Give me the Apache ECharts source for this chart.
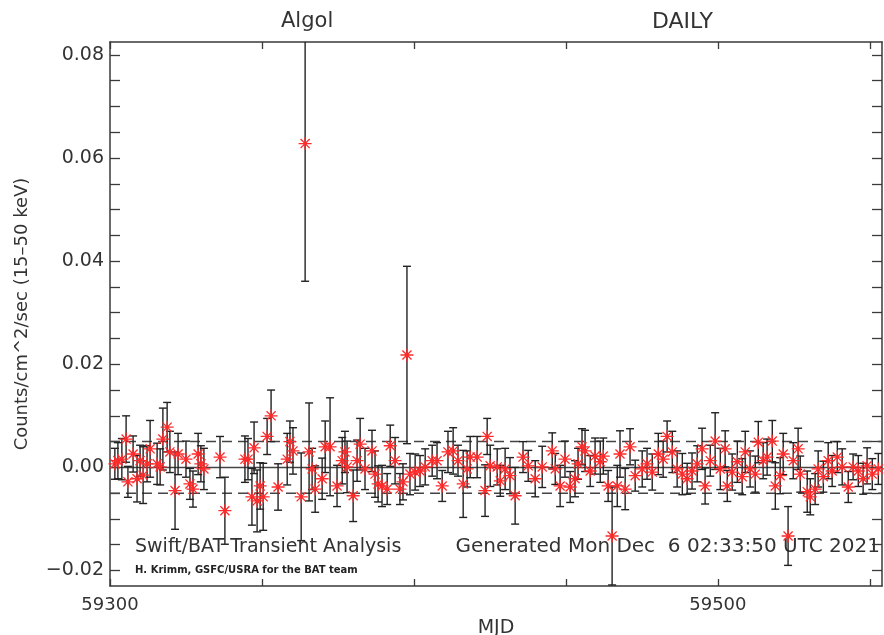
<!doctype html>
<html>
<head>
<meta charset="utf-8">
<title>Algol DAILY</title>
<script src="https://cdn.jsdelivr.net/npm/echarts@6/dist/echarts.min.js"></script>
<style>
  html, body { margin: 0; padding: 0; background: #fff; }
  #main { width: 884px; height: 635px; }
</style>
</head>
<body>
<div id="main"></div>
<script>
  // daily light curve
  var mjd = [
    59301.6, 59302.6, 59303.9, 59305.3, 59305.9, 59307.6, 59308.9, 59309.9, 59310.9, 59312.2, 59313.2, 59315.5,
    59316.5, 59317.4, 59318.8, 59319.7, 59321.4, 59322.4, 59325.0, 59326.3, 59327.3, 59329.0, 59329.9, 59330.9,
    59336.2, 59337.8, 59344.4, 59345.4, 59346.7, 59347.4, 59348.4, 59349.4, 59350.4, 59351.7, 59353.0, 59355.3,
    59358.3, 59359.2, 59360.2, 59362.9, 59364.2, 59365.5, 59366.5, 59367.5, 59369.8, 59370.8,
    59372.4, 59374.7, 59376.4, 59377.3, 59378.0, 59380.0, 59381.3, 59382.3, 59383.9, 59386.2, 59387.2, 59388.2,
    59389.5, 59391.2, 59392.2, 59393.8, 59395.4, 59396.4, 59397.7, 59398.7, 59400.4, 59402.0, 59403.7, 59406.0,
    59407.6, 59409.3, 59411.2, 59412.9, 59414.5, 59416.2, 59417.5, 59418.5, 59420.8, 59423.4, 59424.1, 59425.1,
    59427.4, 59428.4, 59430.0, 59431.6, 59433.3, 59435.9, 59437.6, 59439.9, 59442.2,
    59445.5, 59446.5, 59448.1, 59449.7, 59451.4, 59453.0, 59454.0, 59455.3, 59456.3, 59458.0, 59459.6, 59461.3,
    59462.3, 59463.9, 59465.2, 59466.9, 59467.8, 59469.5, 59471.1, 59472.8, 59475.1, 59476.7, 59478.4,
    59480.4, 59482.0, 59483.3, 59485.0, 59486.6, 59488.3, 59489.9, 59491.5, 59493.2, 59494.8, 59495.8, 59497.5,
    59499.1, 59500.8, 59502.4, 59503.1, 59504.7, 59506.4, 59508.0, 59509.0, 59510.6, 59512.3, 59513.3, 59514.9,
    59516.2, 59517.9, 59518.9, 59520.5, 59521.5, 59523.1, 59524.8, 59526.4, 59527.1, 59529.4, 59530.4, 59532.0,
    59533.0, 59534.7, 59536.3, 59537.6, 59539.3, 59540.9, 59542.9, 59544.5, 59546.2, 59547.8, 59549.1, 59550.8, 59552.8
  ];
  var rate = [
    0.0007, 0.0013, 0.0016, 0.0055, -0.0028, 0.0026, -0.0022, 0.0013, -0.0015, 0.0007, 0.0036, 0.0007,
    0.0001, 0.0055, 0.0078, 0.0030, -0.0045, 0.0026, 0.0016, -0.0032, -0.0042, 0.0026, 0.0007, -0.0003,
    0.0020, -0.0084, 0.0016, 0.0016, -0.0057, 0.0038, -0.0065, -0.0036, -0.0057, 0.0060, 0.0100, -0.0038,
    0.0016, 0.0050, 0.0032, -0.0057, 0.0628, 0.0030, -0.0003, -0.0042, -0.0022, 0.0040,
    0.0040, -0.0036, 0.0013, 0.0030, 0.0001, -0.0055, 0.0013, 0.0045, -0.0003, 0.0032, -0.0013, -0.0032,
    -0.0036, -0.0042, 0.0042, 0.0013, -0.0042, -0.0028, 0.0218, -0.0013, -0.0009, -0.0007, 0.0001, 0.0013,
    0.0013, -0.0036, 0.0030, 0.0032, 0.0013, -0.0032, -0.0003, 0.0020, 0.0020, -0.0045, 0.0060, 0.0003,
    0.0001, -0.0026, -0.0003, -0.0016, -0.0055, 0.0020, 0.0003, -0.0022, 0.0001,
    0.0032, -0.0003, -0.0036, 0.0016, -0.0038, -0.0022, 0.0007, 0.0040, 0.0032, -0.0007, 0.0022, 0.0011,
    0.0022, -0.0036, -0.0133, -0.0036, 0.0026, -0.0042, 0.0040, -0.0016, -0.0003, 0.0007, -0.0009,
    0.0026, 0.0016, 0.0060, 0.0030, -0.0003, -0.0013, -0.0022, -0.0007, 0.0007, 0.0036, -0.0036, 0.0013,
    0.0051, -0.0003, 0.0036, -0.0036, -0.0009, 0.0011, -0.0018, 0.0030, -0.0003, -0.0013, 0.0049, 0.0013,
    0.0020, 0.0051, -0.0036, -0.0016, 0.0026, -0.0133, 0.0013, 0.0036, -0.0013, -0.0047, -0.0057, -0.0042,
    -0.0003, -0.0018, 0.0013, -0.0007, 0.0020, 0.0001, -0.0038, 0.0001, -0.0007, -0.0022, 0.0003, -0.0013, -0.0003
  ];
  var rateErr = [
    0.0030, 0.0035, 0.0040, 0.0045, 0.0030, 0.0035, 0.0045, 0.0030, 0.0055, 0.0035, 0.0055, 0.0040,
    0.0035, 0.0060, 0.0048, 0.0040, 0.0075, 0.0040, 0.0035, 0.0030, 0.0035, 0.0040, 0.0035, 0.0040,
    0.0040, 0.0065, 0.0045, 0.0040, 0.0055, 0.0050, 0.0060, 0.0045, 0.0065, 0.0035, 0.0050, 0.0045,
    0.0050, 0.0040, 0.0045, 0.0085, 0.0267, 0.0095, 0.0040, 0.0045, 0.0040, 0.0050,
    0.0095, 0.0040, 0.0045, 0.0040, 0.0050, 0.0050, 0.0040, 0.0050, 0.0040, 0.0040, 0.0045, 0.0035,
    0.0040, 0.0030, 0.0040, 0.0045, 0.0030, 0.0035, 0.0172, 0.0040, 0.0035, 0.0030, 0.0035, 0.0030,
    0.0035, 0.0030, 0.0040, 0.0045, 0.0030, 0.0065, 0.0035, 0.0040, 0.0040, 0.0050, 0.0035, 0.0040,
    0.0035, 0.0030, 0.0040, 0.0035, 0.0055, 0.0030, 0.0030, 0.0035, 0.0040,
    0.0035, 0.0030, 0.0040, 0.0035, 0.0030, 0.0035, 0.0030, 0.0035, 0.0040, 0.0030, 0.0035, 0.0040,
    0.0035, 0.0030, 0.0095, 0.0040, 0.0045, 0.0040, 0.0035, 0.0030, 0.0035, 0.0030, 0.0035,
    0.0040, 0.0035, 0.0030, 0.0040, 0.0035, 0.0040, 0.0030, 0.0035, 0.0035, 0.0040, 0.0035, 0.0030,
    0.0055, 0.0040, 0.0035, 0.0030, 0.0035, 0.0040, 0.0035, 0.0040, 0.0035, 0.0035, 0.0040, 0.0035,
    0.0035, 0.0040, 0.0045, 0.0035, 0.0040, 0.0057, 0.0035, 0.0040, 0.0035, 0.0040, 0.0035, 0.0030,
    0.0035, 0.0030, 0.0035, 0.0030, 0.0030, 0.0035, 0.0030, 0.0025, 0.0030, 0.0030, 0.0035, 0.0030, 0.0030
  ];

  var xRange = [59300, 59554];
  var xTicks = [59300, 59350, 59400, 59450, 59500, 59550];
  var xLabels = [59300, 59500];
  var yTicks = [-0.02, -0.015, -0.01, -0.005, 0, 0.005, 0.01, 0.015, 0.02, 0.025, 0.03, 0.035,
                0.04, 0.045, 0.05, 0.055, 0.06, 0.065, 0.07, 0.075, 0.08];
  var yLabels = [-0.02, 0, 0.02, 0.04, 0.06, 0.08];
  var zeroLevel = 0;
  var dashedLevels = [-0.005, 0.005];

  var points = mjd.map(function (m, i) { return [m, rate[i], rateErr[i]]; });

  var axisColor = '#3a3a3a';
  var font = '"DejaVu Sans", sans-serif';

  var chart = echarts.init(document.getElementById('main'));

  function xAxisDef(pos, showLabel) {
    return {
      type: 'value',
      position: pos,
      min: xRange[0],
      max: xRange[1],
      splitLine: { show: false },
      axisLine: { onZero: false, lineStyle: { color: axisColor, width: 1.5 } },
      axisTick: { inside: true, length: 7, customValues: xTicks, lineStyle: { color: axisColor, width: 1.3 } },
      axisLabel: {
        show: showLabel,
        customValues: xLabels,
        color: '#333',
        fontSize: 18,
        fontFamily: font,
        margin: 10,
        formatter: function (v) { return String(v); }
      }
    };
  }

  function yAxisDef(pos, showLabel) {
    return {
      type: 'value',
      position: pos,
      min: -0.023,
      max: 0.0825,
      splitLine: { show: false },
      axisLine: { onZero: false, lineStyle: { color: axisColor, width: 1.5 } },
      axisTick: { inside: true, length: 10, customValues: yTicks, lineStyle: { color: axisColor, width: 1.3 } },
      axisLabel: {
        show: showLabel,
        customValues: yLabels,
        color: '#333',
        fontSize: 19,
        fontFamily: font,
        margin: 6,
        formatter: function (v) { return v.toFixed(2).replace('-', '\u2212'); }
      }
    };
  }

  var xBottom = xAxisDef('bottom', true);
  xBottom.name = 'MJD';
  xBottom.nameLocation = 'middle';
  xBottom.nameGap = 23;
  xBottom.nameTextStyle = { color: '#333', fontSize: 19, fontFamily: font };

  var yLeft = yAxisDef('left', true);
  yLeft.name = 'Counts/cm^2/sec (15\u201350 keV)';
  yLeft.nameLocation = 'middle';
  yLeft.nameGap = 79;
  yLeft.nameTextStyle = { color: '#333', fontSize: 18, fontFamily: font };

  function levelLine(level, dashed) {
    return {
      type: 'line',
      silent: true,
      symbol: 'none',
      data: [[xRange[0], level], [xRange[1], level]],
      lineStyle: { color: '#444', width: 1.5, type: dashed ? [10, 6] : 'solid' },
      z: 1
    };
  }

  var option = {
    animation: false,
    backgroundColor: '#fff',
    grid: { left: 110, right: 2, top: 42, bottom: 49, outerBoundsMode: 'none' },
    xAxis: [xBottom, xAxisDef('top', false)],
    yAxis: [yLeft, yAxisDef('right', false)],
    graphic: [
      { type: 'text', left: 281, top: 11, style: { text: 'Algol', fill: '#333', font: '21px ' + font } },
      { type: 'text', left: 652, top: 11, style: { text: 'DAILY', fill: '#333', font: '22px ' + font } },
      { type: 'text', left: 135, top: 538, style: { text: 'Swift/BAT Transient Analysis', fill: '#333', font: '19px ' + font } },
      { type: 'text', right: 4, top: 537, style: { text: 'Generated Mon Dec  6 02:33:50 UTC 2021', fill: '#333', font: '20px ' + font } },
      { type: 'text', left: 135, top: 565, style: { text: 'H. Krimm, GSFC/USRA for the BAT team', fill: '#222', font: 'bold 10px ' + font } }
    ],
    series: [
      levelLine(zeroLevel, false),
      levelLine(dashedLevels[0], true),
      levelLine(dashedLevels[1], true),
      {
        type: 'custom',
        silent: true,
        data: points,
        encode: { x: 0, y: 1 },
        renderItem: function (params, api) {
          var x = api.value(0), y = api.value(1), e = api.value(2);
          var top = api.coord([x, y + e]);
          var bot = api.coord([x, y - e]);
          var w = 4;
          var st = { stroke: '#222', lineWidth: 1.4 };
          var cs = params.coordSys;
          return {
            type: 'group',
            clipPath: { type: 'rect', shape: { x: cs.x, y: cs.y, width: cs.width, height: cs.height } },
            children: [
              { type: 'line', shape: { x1: top[0], y1: top[1], x2: bot[0], y2: bot[1] }, style: st },
              { type: 'line', shape: { x1: top[0] - w, y1: top[1], x2: top[0] + w, y2: top[1] }, style: st },
              { type: 'line', shape: { x1: bot[0] - w, y1: bot[1], x2: bot[0] + w, y2: bot[1] }, style: st }
            ]
          };
        },
        z: 2
      },
      {
        type: 'scatter',
        silent: true,
        data: points,
        symbol: 'path://M0 5L10 5M5 0L5 10M1.5 1.5L8.5 8.5M8.5 1.5L1.5 8.5',
        symbolSize: 13,
        itemStyle: { color: 'none', borderColor: '#ff2a2a', borderWidth: 1.3, opacity: 1 },
        z: 3
      }
    ]
  };

  chart.setOption(option);
</script>
</body>
</html>
